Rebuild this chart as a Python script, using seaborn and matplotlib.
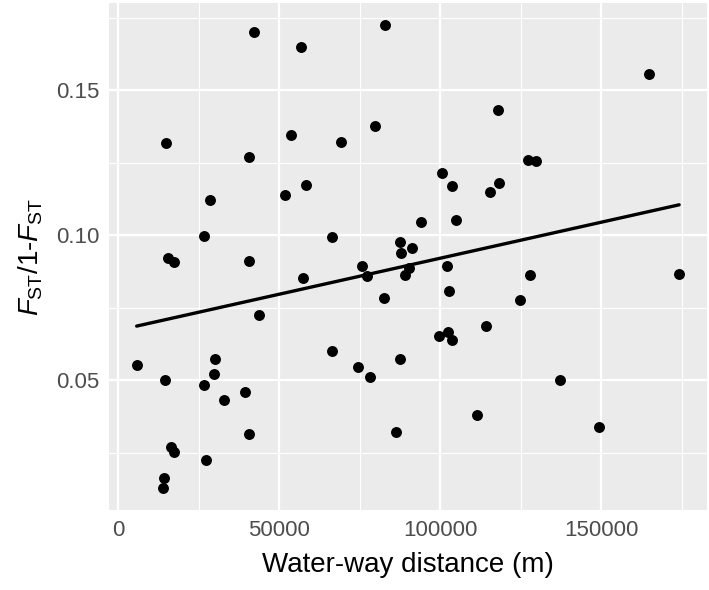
"""
Scatter of pairwise FST/(1-FST) vs water-way distance, ggplot-like look
"""

import numpy as np
import pandas as pd
import matplotlib
matplotlib.use("Agg")
import matplotlib.pyplot as plt
from matplotlib.ticker import MultipleLocator, FormatStrFormatter
import seaborn as sns

# === Data ===
distance_m = [
    42080, 56770, 14750, 40530, 53570, 28510, 51700, 26550, 15270, 17240,
    40530, 43730, 5650, 29870, 29660, 14540, 26650, 32760, 39290, 40530,
    16300, 17240, 27170, 14230, 13820, 82860, 69200, 79660, 58330, 100470,
    103670, 104720, 93850, 66410, 87420, 87840, 91050, 75520, 57190, 77270,
    89060, 90310, 101910, 102730, 82350, 66410, 74470, 78100, 87320, 99440,
    102230, 103470, 111330, 86180, 164750, 117860, 127270, 129560, 118270, 115280,
    127800, 174160, 124590, 114220, 137210, 149130,
]
fst_ratio = [
    0.1701, 0.1648, 0.1318, 0.1271, 0.1347, 0.1122, 0.1137, 0.0998, 0.0922, 0.0907,
    0.0910, 0.0725, 0.0551, 0.0573, 0.0522, 0.0499, 0.0482, 0.0432, 0.0458, 0.0315,
    0.0270, 0.0253, 0.0224, 0.0164, 0.0129, 0.1724, 0.1321, 0.1377, 0.1173, 0.1216,
    0.1171, 0.1053, 0.1045, 0.0993, 0.0975, 0.0940, 0.0957, 0.0895, 0.0853, 0.0859,
    0.0862, 0.0885, 0.0895, 0.0807, 0.0783, 0.0599, 0.0546, 0.0511, 0.0573, 0.0652,
    0.0666, 0.0638, 0.0380, 0.0321, 0.1556, 0.1432, 0.1260, 0.1254, 0.1179, 0.1148,
    0.0861, 0.0867, 0.0778, 0.0685, 0.0501, 0.0339,
]

df = pd.DataFrame({"distance": distance_m, "fst": fst_ratio})

# === Theme (mimic ggplot2 theme_gray) ===
sns.set_theme(style="darkgrid", rc={
    "axes.facecolor": "#EBEBEB",
    "grid.color": "white",
    "axes.edgecolor": "#EBEBEB",
})
plt.rcParams["font.family"] = ["Liberation Sans", "DejaVu Sans"]
plt.rcParams["mathtext.fontset"] = "custom"
plt.rcParams["mathtext.rm"] = "Liberation Sans"
plt.rcParams["mathtext.it"] = "Liberation Sans:italic"

fig = plt.figure(figsize=(7.09, 5.90), dpi=100)
ax = fig.add_axes([0.1537, 0.1356, 0.8434, 0.859])

sns.regplot(
    data=df, x="distance", y="fst", ax=ax, ci=None,
    scatter_kws={"s": 62, "color": "black", "linewidths": 0, "alpha": 1},
    line_kws={"color": "black", "linewidth": 2.4},
)

ax.set_xlim(-2950, 182800)
ax.set_ylim(0.0052, 0.180)

ax.xaxis.set_major_locator(MultipleLocator(50000))
ax.xaxis.set_minor_locator(MultipleLocator(25000))
ax.yaxis.set_major_locator(MultipleLocator(0.05))
ax.yaxis.set_minor_locator(MultipleLocator(0.025))
ax.yaxis.set_major_formatter(FormatStrFormatter("%.2f"))
ax.xaxis.set_major_formatter(FormatStrFormatter("%d"))

ax.grid(which="major", color="white", linewidth=1.6)
ax.grid(which="minor", color="white", linewidth=0.8)
ax.set_axisbelow(True)
for s in ax.spines.values():
    s.set_visible(False)

ax.tick_params(which="major", length=4, width=1.3, color="#333333",
               labelsize=16, labelcolor="#4D4D4D", pad=3)
ax.tick_params(which="minor", length=0)

ax.set_xlabel("Water-way distance (m)", fontsize=20, color="black", labelpad=8)
ax.set_ylabel(r"$F_{\mathrm{ST}}$/1-$F_{\mathrm{ST}}$", fontsize=20, color="black", labelpad=8)

fig.savefig("out.png", dpi=100)
plt.close(fig)
